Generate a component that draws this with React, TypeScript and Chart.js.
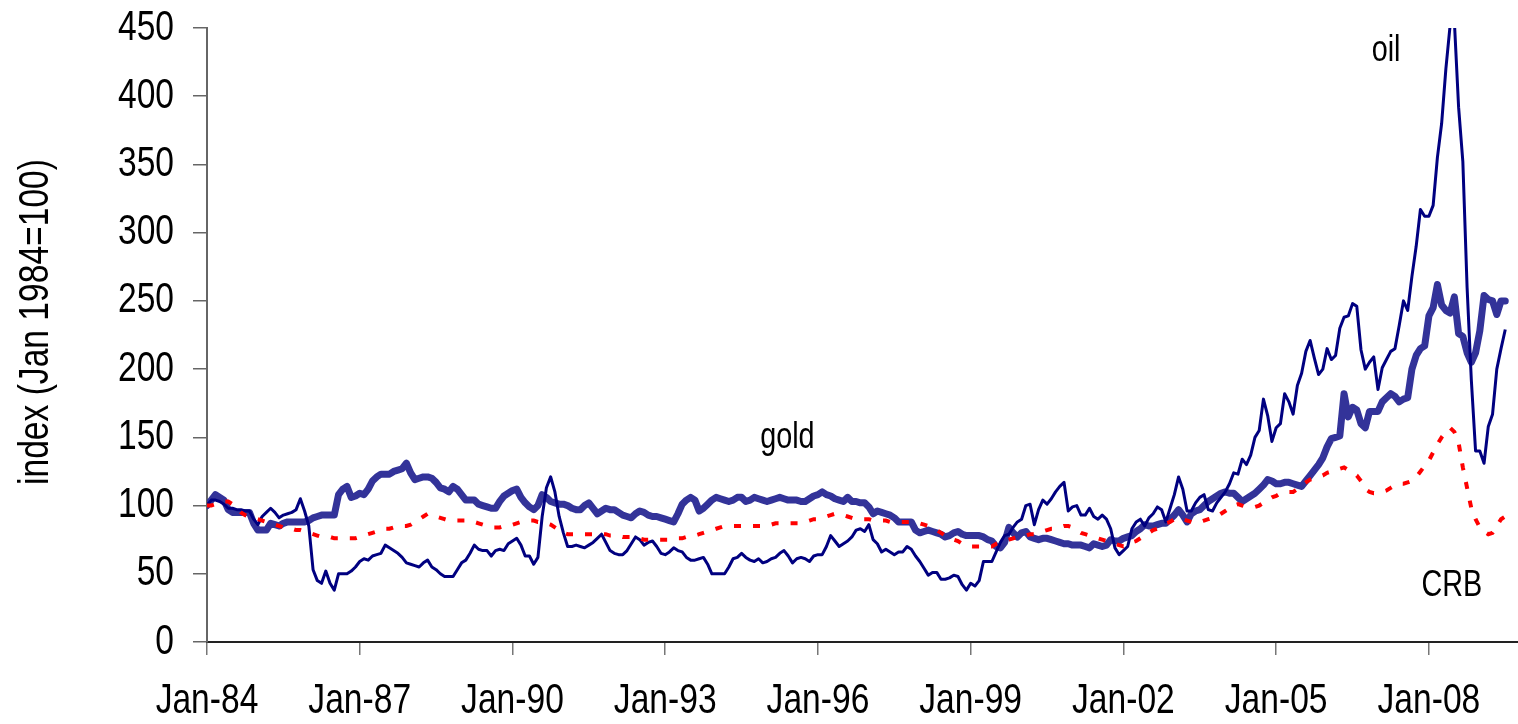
import { useEffect, useRef } from "react";
import { Chart, registerables } from "chart.js";

Chart.register(...registerables);

// Month index 0 = Jan 1984
const xTickMonths = [0, 36, 72, 108, 144, 180, 216, 252, 288];
const xTickLabels = ["Jan-84", "Jan-87", "Jan-90", "Jan-93", "Jan-96", "Jan-99", "Jan-02", "Jan-05", "Jan-08"];
const yTicks = [0, 50, 100, 150, 200, 250, 300, 350, 400, 450];
const yTitle = "index (Jan 1984=100)";

const gold: number[] = [
  100, 104, 108, 106, 104, 97, 95, 95, 95, 95, 95, 87, // 1984
  82, 82, 82, 87, 86, 85, 87, 88, 88, 88, 88, 88, // 1985
  89, 91, 92, 93, 93, 93, 93, 108, 112, 114, 106, 107, // 1986
  109, 108, 112, 118, 121, 123, 123, 123, 125, 126, 127, 131, // 1987
  124, 119, 120, 121, 121, 120, 117, 113, 112, 110, 114, 112, // 1988
  108, 104, 104, 104, 101, 100, 99, 98, 98, 103, 107, 109, // 1989
  111, 112, 106, 102, 99, 97, 100, 108, 106, 103, 102, 101, // 1990
  101, 100, 98, 97, 97, 100, 102, 98, 94, 96, 98, 97, // 1991
  97, 95, 93, 92, 91, 94, 96, 95, 93, 92, 92, 91, // 1992
  90, 89, 88, 94, 101, 104, 106, 104, 96, 98, 101, 104, // 1993
  106, 105, 104, 103, 104, 106, 106, 103, 104, 106, 105, 104, // 1994
  103, 104, 105, 106, 105, 104, 104, 104, 103, 103, 105, 107, // 1995
  108, 110, 108, 107, 105, 104, 103, 106, 103, 103, 102, 102, // 1996
  99, 94, 96, 95, 94, 93, 91, 88, 88, 88, 88, 82, // 1997
  80, 81, 82, 81, 80, 79, 77, 78, 80, 81, 79, 78, // 1998
  78, 78, 78, 77, 75, 74, 70, 69, 73, 84, 80, 77, // 1999
  80, 81, 77, 76, 75, 76, 76, 75, 74, 73, 72, 72, // 2000
  71, 71, 71, 70, 69, 72, 71, 70, 71, 75, 74, 74, // 2001
  76, 77, 78, 81, 83, 86, 85, 85, 86, 87, 87, 90, // 2002
  93, 97, 93, 88, 94, 96, 97, 100, 103, 105, 107, 109, // 2003
  110, 109, 109, 106, 103, 105, 107, 109, 112, 115, 119, 118, // 2004
  116, 116, 117, 117, 116, 115, 114, 118, 122, 126, 130, 135, // 2005
  143, 149, 150, 151, 182, 165, 172, 170, 160, 157, 169, 169, // 2006
  169, 176, 179, 182, 180, 176, 178, 179, 200, 210, 215, 217, // 2007
  239, 245, 262, 247, 243, 241, 253, 226, 224, 212, 205, 212, // 2008
  228, 254, 251, 250, 240, 250, 250, // 2009
];

const oil: number[] = [
  100, 104, 104, 103, 101, 98, 98, 97, 97, 96, 96, 90, // 1984
  86, 92, 95, 98, 95, 91, 93, 94, 95, 97, 105, 96, // 1985
  85, 53, 45, 43, 52, 43, 38, 50, 50, 50, 52, 55, // 1986
  59, 61, 60, 63, 64, 65, 71, 69, 67, 65, 62, 58, // 1987
  57, 56, 55, 58, 60, 55, 53, 50, 48, 48, 48, 53, // 1988
  58, 60, 65, 71, 68, 67, 67, 63, 67, 68, 67, 72, // 1989
  74, 76, 71, 63, 63, 57, 62, 92, 113, 121, 110, 92, // 1990
  80, 70, 70, 71, 70, 69, 71, 73, 76, 79, 73, 67, // 1991
  65, 64, 64, 67, 72, 77, 75, 71, 73, 74, 70, 65, // 1992
  64, 66, 69, 67, 66, 62, 60, 60, 61, 62, 57, 50, // 1993
  50, 50, 50, 55, 61, 62, 65, 62, 60, 59, 61, 58, // 1994
  59, 61, 62, 65, 67, 63, 58, 61, 62, 61, 59, 63, // 1995
  64, 64, 70, 78, 74, 70, 72, 74, 77, 82, 83, 81, // 1996
  86, 75, 72, 66, 68, 66, 64, 66, 66, 70, 68, 63, // 1997
  59, 54, 49, 51, 51, 46, 46, 47, 49, 48, 42, 38, // 1998
  43, 41, 45, 59, 59, 59, 66, 73, 78, 79, 84, 88, // 1999
  90, 100, 101, 86, 97, 104, 101, 105, 110, 114, 117, 96, // 2000
  99, 100, 93, 93, 98, 92, 90, 93, 90, 83, 69, 64, // 2001
  67, 70, 83, 88, 90, 85, 91, 94, 99, 97, 88, 98, // 2002
  108, 121, 112, 96, 96, 102, 106, 108, 97, 96, 102, 106, // 2003
  110, 116, 124, 123, 134, 130, 137, 150, 155, 178, 166, 147, // 2004
  157, 160, 182, 176, 167, 188, 197, 213, 221, 208, 196, 200, // 2005
  215, 207, 210, 230, 238, 239, 248, 246, 214, 200, 205, 209, // 2006
  185, 201, 207, 213, 215, 232, 250, 243, 268, 290, 317, 312, // 2007
  312, 320, 355, 380, 420, 452, 455, 392, 352, 260, 192, 140, // 2008
  140, 131, 158, 167, 200, 215, 229, // 2009
];

const crb: number[] = [
  100, 100, 101, 102, 103, 103, 101, 98, 95, 93, 92, 91, // 1984
  90, 89, 88, 87, 86, 85, 84, 83, 83, 82, 82, 81, // 1985
  80, 79, 78, 77, 77, 77, 76, 76, 76, 76, 76, 76, // 1986
  77, 78, 79, 80, 81, 82, 83, 83, 84, 84, 85, 85, // 1987
  86, 88, 90, 92, 94, 93, 92, 91, 90, 89, 89, 89, // 1988
  89, 89, 89, 88, 87, 86, 85, 84, 84, 84, 85, 85, // 1989
  86, 87, 88, 89, 89, 89, 88, 88, 87, 86, 84, 82, // 1990
  80, 79, 79, 79, 79, 79, 79, 79, 79, 79, 79, 78, // 1991
  78, 78, 77, 77, 77, 76, 76, 75, 75, 75, 75, 75, // 1992
  75, 75, 76, 76, 76, 77, 77, 78, 79, 80, 81, 82, // 1993
  83, 84, 85, 85, 85, 85, 85, 85, 85, 85, 85, 85, // 1994
  86, 86, 87, 87, 87, 87, 87, 87, 87, 88, 89, 90, // 1995
  90, 91, 92, 93, 94, 94, 93, 92, 91, 90, 90, 90, // 1996
  90, 89, 89, 89, 89, 88, 88, 88, 88, 88, 88, 88, // 1997
  87, 86, 85, 83, 82, 80, 78, 77, 75, 74, 72, 71, // 1998
  70, 70, 70, 70, 70, 70, 72, 73, 74, 75, 76, 77, // 1999
  78, 78, 79, 79, 80, 81, 82, 83, 83, 84, 85, 85, // 2000
  84, 82, 80, 79, 78, 77, 76, 75, 74, 73, 72, 71, // 2001
  70, 71, 73, 74, 76, 78, 80, 82, 83, 85, 87, 88, // 2002
  90, 91, 90, 89, 88, 87, 88, 89, 90, 91, 92, 94, // 2003
  96, 98, 100, 101, 100, 99, 99, 99, 100, 102, 104, 106, // 2004
  107, 109, 110, 110, 110, 112, 115, 117, 119, 120, 121, 122, // 2005
  124, 125, 126, 127, 128, 126, 124, 122, 118, 112, 110, 109, // 2006
  109, 110, 111, 113, 115, 116, 116, 117, 118, 121, 125, 129, // 2007
  133, 139, 145, 150, 154, 157, 154, 146, 128, 113, 98, 90, // 2008
  84, 81, 79, 80, 85, 90, 92, // 2009
];

const seriesLabels = ["CRB", "oil", "gold"];
const annotations = [
  { text: "gold", month: 136.8, value: 149.5 },
  { text: "oil", month: 277.9, value: 433 },
  { text: "CRB", month: 293.4, value: 41 },
];

const FONT = "'Liberation Sans', Arial, sans-serif";
const NARROW = 0.8; // horizontal condensing, like Arial Narrow

const toPoints = (arr: number[]) => arr.map((v, i) => ({ x: i, y: v }));

function narrowText(ctx: CanvasRenderingContext2D, text: string, x: number, y: number, align: CanvasTextAlign) {
  ctx.save();
  ctx.translate(x, y);
  ctx.scale(NARROW, 1);
  ctx.textAlign = align;
  ctx.fillText(text, 0, 0);
  ctx.restore();
}

const textPlugin = {
  id: "narrowTexts",
  afterDraw(chart: any) {
    const { ctx, scales } = chart;
    const xs = scales.x;
    const ys = scales.y;
    ctx.save();
    ctx.fillStyle = "#000";
    ctx.textBaseline = "middle";
    // x tick labels
    ctx.font = `42px ${FONT}`;
    xTickMonths.forEach((m, i) => {
      narrowText(ctx, xTickLabels[i], xs.getPixelForValue(m), 701, "center");
    });
    // y tick labels
    yTicks.forEach((v) => {
      narrowText(ctx, String(v), 174, ys.getPixelForValue(v), "right");
    });
    // y title
    ctx.save();
    ctx.translate(36, 322);
    ctx.rotate(-Math.PI / 2);
    ctx.scale(NARROW, 1);
    ctx.textAlign = "center";
    ctx.font = `42px ${FONT}`;
    ctx.fillText(yTitle, 0, 0);
    ctx.restore();
    // series names
    ctx.font = `36px ${FONT}`;
    for (const a of annotations) {
      narrowText(ctx, a.text, xs.getPixelForValue(a.month), ys.getPixelForValue(a.value), "center");
    }
    ctx.restore();
  },
};

export default function App() {
  const ref = useRef<HTMLCanvasElement | null>(null);
  useEffect(() => {
    if (!ref.current) return;
    const chart = new Chart(ref.current, {
      type: "line",
      data: {
        datasets: [
          {
            label: seriesLabels[0],
            data: toPoints(crb),
            borderColor: "#FF0000",
            borderWidth: 4,
            borderDash: [7, 12],
            borderCapStyle: "butt",
            pointRadius: 0,
            tension: 0,
          },
          {
            label: seriesLabels[1],
            data: toPoints(oil),
            borderColor: "#000080",
            borderWidth: 3,
            borderJoinStyle: "round",
            pointRadius: 0,
            tension: 0,
          },
          {
            label: seriesLabels[2],
            data: toPoints(gold),
            borderColor: "#333399",
            borderWidth: 7,
            borderJoinStyle: "round",
            borderCapStyle: "round",
            pointRadius: 0,
            tension: 0,
          },
        ],
      },
      options: {
        animation: false,
        responsive: false,
        maintainAspectRatio: false,
        layout: { padding: { top: 28, left: 0, right: 0, bottom: 0 } },
        plugins: { legend: { display: false }, tooltip: { enabled: false } },
        scales: {
          x: {
            type: "linear",
            min: 0,
            max: 309,
            afterBuildTicks: (s: any) => {
              s.ticks = xTickMonths.map((v) => ({ value: v }));
            },
            ticks: { display: false },
            grid: { drawOnChartArea: false, drawTicks: true, tickLength: 13, color: "#777", lineWidth: 1.5 },
            border: { display: true, color: "#222", width: 2 },
            afterFit: (s: any) => {
              s.height = 82;
              s.paddingLeft = 0;
              s.paddingRight = 0;
            },
          },
          y: {
            min: 0,
            max: 450,
            afterBuildTicks: (s: any) => {
              s.ticks = yTicks.map((v) => ({ value: v }));
            },
            ticks: { display: false },
            grid: { drawOnChartArea: false, drawTicks: true, tickLength: 14, color: "#666", lineWidth: 1.5 },
            border: { display: true, color: "#666", width: 2 },
            afterFit: (s: any) => {
              s.width = 207;
              s.paddingTop = 0;
              s.paddingBottom = 0;
            },
          },
        },
      },
      plugins: [textPlugin],
    } as any);
    return () => chart.destroy();
  }, []);
  return (
    <div style={{ position: "fixed", left: 0, top: 0, width: 1518, height: 724, background: "#fff" }}>
      <canvas ref={ref} width={1518} height={724} style={{ width: 1518, height: 724 }} />
    </div>
  );
}
